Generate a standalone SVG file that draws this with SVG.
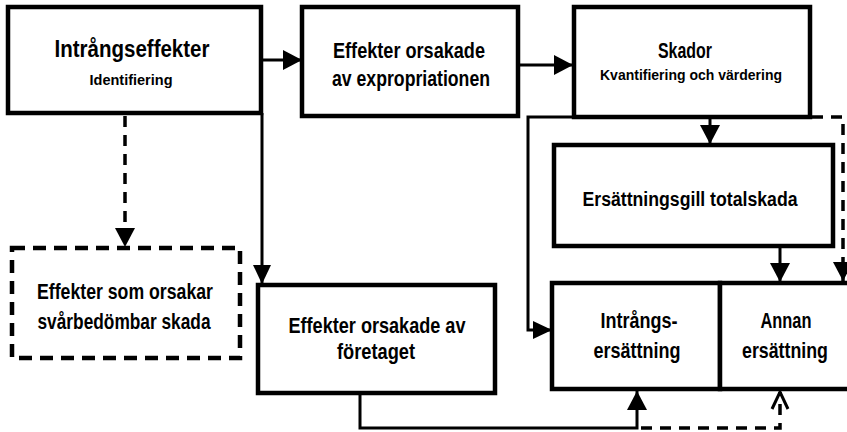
<svg xmlns="http://www.w3.org/2000/svg" width="847" height="432" viewBox="0 0 847 432">
  <style>
    .box { fill: #fff; stroke: #000; stroke-width: 4.5; }
    .dbox { fill: #fff; stroke: #000; stroke-width: 4.5; stroke-dasharray: 13 8; }
    .conn { fill: none; stroke: #000; stroke-width: 3; }
    .dconn { fill: none; stroke: #000; stroke-width: 3.5; stroke-dasharray: 11 8; }
    text { font-family: "Liberation Sans", Arial, sans-serif; font-weight: bold; fill: #000; text-anchor: middle; }
    .t { font-size: 22px; }
    .tl { font-size: 24px; }
    .s { font-size: 15.5px; }
  </style>
  <defs>
    <marker id="head" markerUnits="userSpaceOnUse" markerWidth="22" markerHeight="22" refX="19" refY="10" orient="auto">
      <path d="M0,0 L19,10 L0,20 Z" fill="#000"/>
    </marker>
    <marker id="headS" markerUnits="userSpaceOnUse" markerWidth="22" markerHeight="20" refX="19" refY="9" orient="auto">
      <path d="M0,0 L19,9 L0,18 Z" fill="#000"/>
    </marker>
    <marker id="open" markerUnits="userSpaceOnUse" markerWidth="22" markerHeight="22" refX="18" refY="10" orient="auto">
      <path d="M1,2 L18,10 L1,18" fill="none" stroke="#000" stroke-width="3"/>
    </marker>
  </defs>

  <!-- connectors -->
  <g id="connectors">
    <line class="conn" x1="262" y1="60" x2="302" y2="60" marker-end="url(#head)"/>
    <line class="conn" x1="518" y1="65" x2="573" y2="65" marker-end="url(#head)"/>
    <line class="conn" x1="710" y1="117" x2="710" y2="144" marker-end="url(#head)"/>
    <polyline class="conn" points="574,117 528,117 528,330 552,330" marker-end="url(#headS)"/>
    <polyline class="dconn" points="812,117 843,117 843,281" marker-end="url(#head)"/>
    <line class="conn" x1="780" y1="247" x2="780" y2="282" marker-end="url(#head)"/>
    <line class="conn" x1="262" y1="113" x2="262" y2="284" marker-end="url(#headS)"/>
    <line class="dconn" x1="125" y1="116" x2="125" y2="247" marker-end="url(#head)"/>
    <polyline class="conn" points="360,393 360,428 637,428 637,391" marker-end="url(#head)"/>
    <polyline class="dconn" points="641,428 780,428 780,392" marker-end="url(#open)"/>
  </g>

  <g id="intrangseffekter">
    <rect class="box" x="8" y="7" width="253" height="106"/>
    <text class="tl" x="132" y="57" textLength="155" lengthAdjust="spacingAndGlyphs">Intrångseffekter</text>
    <text class="s" x="131" y="85" textLength="83" lengthAdjust="spacingAndGlyphs">Identifiering</text>
  </g>

  <g id="effekter-expropriation">
    <rect class="box" x="302" y="7" width="216" height="109"/>
    <text class="t" x="409" y="58" textLength="152" lengthAdjust="spacingAndGlyphs">Effekter orsakade</text>
    <text class="t" x="411" y="86" textLength="158" lengthAdjust="spacingAndGlyphs">av expropriationen</text>
  </g>

  <g id="skador">
    <rect class="box" x="574" y="7" width="236" height="110"/>
    <text class="t" x="685" y="58" textLength="54" lengthAdjust="spacingAndGlyphs">Skador</text>
    <text class="s" x="691" y="80" textLength="182" lengthAdjust="spacingAndGlyphs">Kvantifiering och värdering</text>
  </g>

  <g id="totalskada">
    <rect class="box" x="554" y="145" width="279" height="101"/>
    <text x="690" y="206" style="font-size:20px" textLength="215" lengthAdjust="spacingAndGlyphs">Ersättningsgill totalskada</text>
  </g>

  <g id="svarbedombar">
    <rect class="dbox" x="12" y="248" width="228" height="110"/>
    <text class="t" x="125" y="299" textLength="176" lengthAdjust="spacingAndGlyphs">Effekter som orsakar</text>
    <text class="t" x="124" y="329" textLength="173" lengthAdjust="spacingAndGlyphs">svårbedömbar skada</text>
  </g>

  <g id="effekter-foretaget">
    <rect class="box" x="258" y="285" width="237" height="108"/>
    <text class="t" x="377" y="333" textLength="177" lengthAdjust="spacingAndGlyphs">Effekter orsakade av</text>
    <text class="t" x="376" y="359" textLength="78" lengthAdjust="spacingAndGlyphs">företaget</text>
  </g>

  <g id="intrangsersattning">
    <rect class="box" x="552" y="283" width="168" height="106"/>
    <text class="t" x="639" y="328" textLength="77" lengthAdjust="spacingAndGlyphs">Intrångs-</text>
    <text class="t" x="637" y="358" textLength="87" lengthAdjust="spacingAndGlyphs">ersättning</text>
  </g>

  <g id="annan-ersattning">
    <rect class="box" x="720" y="283" width="140" height="106"/>
    <text class="t" x="786" y="328" textLength="51" lengthAdjust="spacingAndGlyphs">Annan</text>
    <text class="t" x="785" y="358" textLength="86" lengthAdjust="spacingAndGlyphs">ersättning</text>
  </g>
</svg>
